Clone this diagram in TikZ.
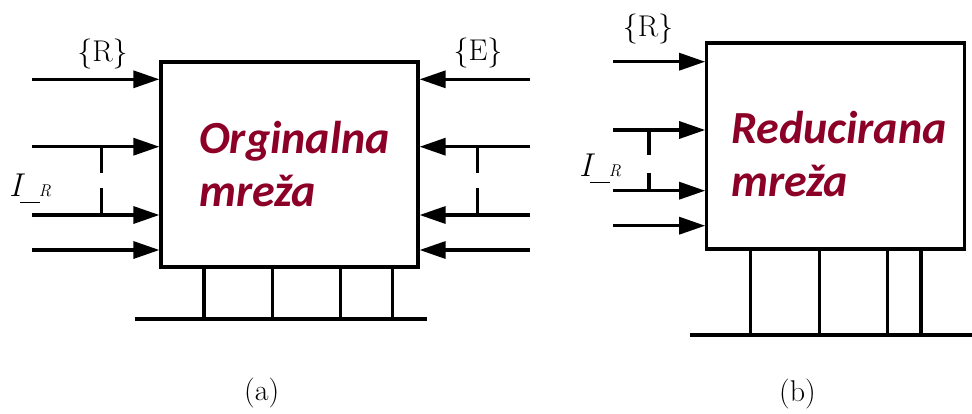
\documentclass[tikz,border=0pt]{standalone}
\usepackage{fontspec}
\newfontfamily\carl{Carlito}
\usetikzlibrary{arrows.meta}
\definecolor{netred}{RGB}{140,0,40}
\newcommand{\irlabel}{{\fontsize{33}{38}\selectfont\itshape I}\kern-1.2pt\rule[-7pt]{19.5pt}{1.5pt}\kern-1pt{\fontsize{17}{19}\selectfont\itshape R}}
\tikzset{
  ln/.style={line width=3.2pt},
  arr/.style={ln,-{Triangle[length=26pt,width=17pt]}},
  dsh/.style={ln,dash pattern=on 26pt off 15pt on 40pt},
  netbox/.style={draw,ln,minimum width=257pt,minimum height=205pt,inner sep=0pt},
  lbl/.style={font=\fontsize{30}{35}\selectfont,inner sep=0pt},
  nettxt/.style={font=\carl\bfseries\itshape\fontsize{46}{53}\selectfont,text=netred,inner sep=0pt,align=left}
}
\begin{document}
\begin{tikzpicture}[x=1pt,y=-1pt]
\useasboundingbox (0,0) rectangle (972,413);
% ---------- (a) ----------
\node[netbox] (A) at (289.5,164.5) {};
\node[nettxt,anchor=base west] (ta) at (199,206) {Orginalna\\mreža};
% left inputs
\coordinate (l1) at (32,79.3);
\coordinate (l2) at (32,146.7);
\coordinate (l3) at (32,215);
\coordinate (l4) at (32,250);
\foreach \c in {l1,l2,l3,l4} \draw[arr] (\c) -- (A.west |- \c);
\coordinate (dl1) at (101.7,146.7);
\coordinate (dl2) at (101.7,215);
\draw[dsh] (dl1) -- (dl2);
% right inputs
\coordinate (r1) at (530,79.3);
\coordinate (r2) at (530,146.7);
\coordinate (r3) at (530,215);
\coordinate (r4) at (530,250);
\foreach \c in {r1,r2,r3,r4} \draw[arr] (\c) -- (A.east |- \c);
\coordinate (dr1) at (477.3,146.7);
\coordinate (dr2) at (477.3,215);
\draw[dsh] (dr1) -- (dr2);
% labels
\node[lbl,anchor=base] (Ra) at (102.5,61.7) {\{R\}};
\node[lbl,anchor=base] (Ea) at (478,60) {\{E\}};
\node[inner sep=0pt,anchor=base west] (IRa) at (9,196) {\irlabel};
% bottom bus
\coordinate (busa1) at (135,319);
\coordinate (busa2) at (427,319);
\draw[ln] (busa1) -- (busa2);
\foreach \x [count=\i] in {204,272.7,340.7,392.3} {
  \coordinate (ba\i) at (\x,319);
  \draw[ln] (ba\i |- A.south) -- (ba\i);
}
\node[lbl,anchor=base] (capa) at (261.7,400) {(a)};
% ---------- (b) ----------
\node[netbox,minimum width=258pt,minimum height=206pt] (B) at (835.8,146) {};
\node[nettxt,anchor=base west] (tb) at (731,196.7) {Reducirana\\mreža};
\coordinate (m1) at (613,61.7);
\coordinate (m2) at (613,130);
\coordinate (m3) at (613,190.7);
\coordinate (m4) at (613,225.7);
\foreach \c in {m1,m2,m3,m4} \draw[arr] (\c) -- (B.west |- \c);
\coordinate (dm1) at (649,130);
\coordinate (dm2) at (649,190.7);
\draw[ln,dash pattern=on 25pt off 18pt on 40pt] (dm1) -- (dm2);
\node[lbl,anchor=base] (Rb) at (648,36) {\{R\}};
\node[inner sep=0pt,anchor=base west] (IRb) at (579,176) {\irlabel};
\coordinate (busb1) at (690,335);
\coordinate (busb2) at (972,335);
\draw[ln] (busb1) -- (busb2);
\foreach \x [count=\i] in {750.7,819.3,887.7,921} {
  \coordinate (bb\i) at (\x,335);
  \draw[ln] (bb\i |- B.south) -- (bb\i);
}
\node[lbl,anchor=base] (capb) at (797.5,401) {(b)};
\end{tikzpicture}
\end{document}
